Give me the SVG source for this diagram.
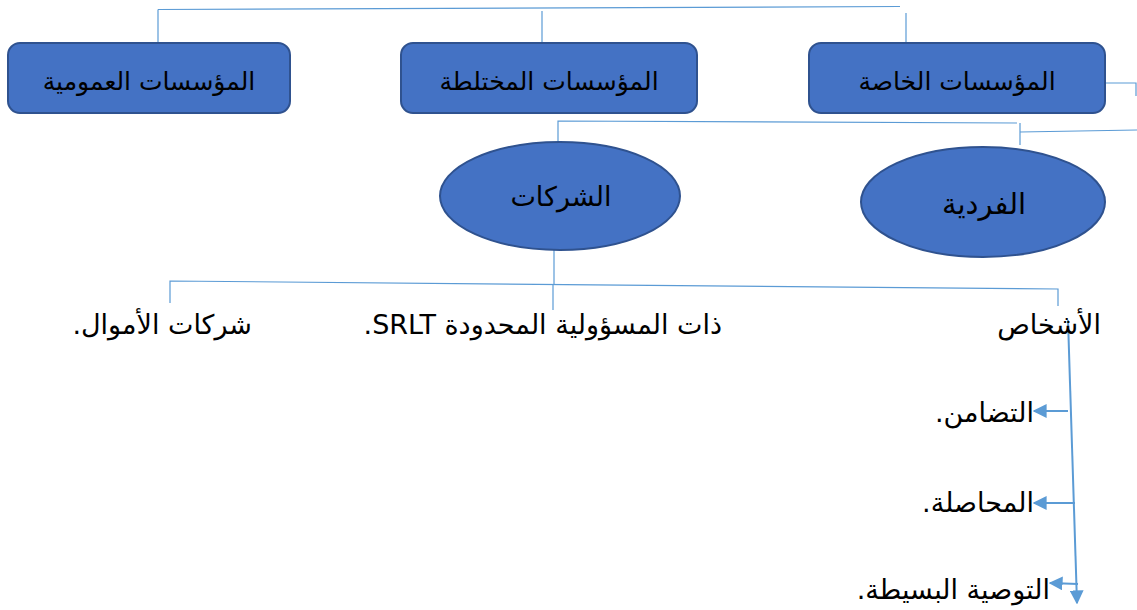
<svg xmlns="http://www.w3.org/2000/svg" width="1137" height="610" viewBox="0 0 1137 610">
<style>
.box{fill:#4472C4;stroke:#2F528F;stroke-width:2}
.ln{stroke:#5B9BD5;stroke-width:1.2;fill:none}
.ar{stroke:#5B9BD5;stroke-width:2;fill:none}
.t{font-family:"DejaVu Sans","Noto Sans",sans-serif;fill:#000;direction:rtl;unicode-bidi:embed}
.bt{font-size:25px;text-anchor:middle}
.et{font-size:27px;text-anchor:middle}
.lt{font-size:27px;text-anchor:start}
</style>
<defs>
<marker id="ah" viewBox="0 0 10 10" refX="9" refY="5" markerWidth="7" markerHeight="7" orient="auto"><path d="M0,0 L10,5 L0,10 z" fill="#5B9BD5"/></marker>
</defs>
<rect width="1137" height="610" fill="#fff"/>
<g id="connectors">
<path class="ln" d="M158,9.5 L900,6.5"/>
<path class="ln" d="M158,9.5 V43"/>
<path class="ln" d="M542,11 V43"/>
<path class="ln" d="M906,13 V43"/>
<path class="ln" d="M1105,83 H1136 V96"/>
<path class="ln" d="M558,143 V121 L1017,123"/>
<path class="ln" d="M1020,145 V123 M1020,132 L1137,130"/>
<path class="ln" d="M554,250 V284"/>
<path class="ln" d="M170,303 V281 L1058,289 V306"/>
<path class="ln" d="M553,285 V310"/>
<path class="ar" d="M1068,320 L1077,603" marker-end="url(#ah)"/>
<path class="ar" d="M1068,411 H1034" marker-end="url(#ah)"/>
<path class="ar" d="M1075,503 H1034" marker-end="url(#ah)"/>
<path class="ar" d="M1078,584 L1050,583" marker-end="url(#ah)"/>
</g>
<g id="n1"><rect class="box" x="8" y="43" width="282" height="70" rx="12"/><text class="t bt" x="149" y="90">المؤسسات العمومية</text></g>
<g id="n2"><rect class="box" x="401" y="43" width="296" height="70" rx="12"/><text class="t bt" x="549" y="90">المؤسسات المختلطة</text></g>
<g id="n3"><rect class="box" x="809" y="43" width="296" height="70" rx="12"/><text class="t bt" x="957" y="90">المؤسسات الخاصة</text></g>
<g id="n4"><ellipse class="box" cx="560" cy="196" rx="120" ry="54"/><text class="t et" x="561" y="206">الشركات</text></g>
<g id="n5"><ellipse class="box" cx="983" cy="202" rx="122" ry="55"/><text class="t et" x="984" y="214" style="font-size:29px">الفردية</text></g>
<g id="n6"><text class="t lt" x="252" y="334">شركات الأموال.</text></g>
<g id="n7"><text class="t lt" x="722" y="334">ذات المسؤولية المحدودة SRLT.</text></g>
<g id="n8"><text class="t lt" x="1101" y="334">الأشخاص</text></g>
<g id="n9"><text class="t lt" x="1034" y="422">التضامن.</text></g>
<g id="n10"><text class="t lt" x="1034" y="512">المحاصلة.</text></g>
<g id="n11"><text class="t lt" x="1050" y="599">التوصية البسيطة.</text></g>
</svg>
